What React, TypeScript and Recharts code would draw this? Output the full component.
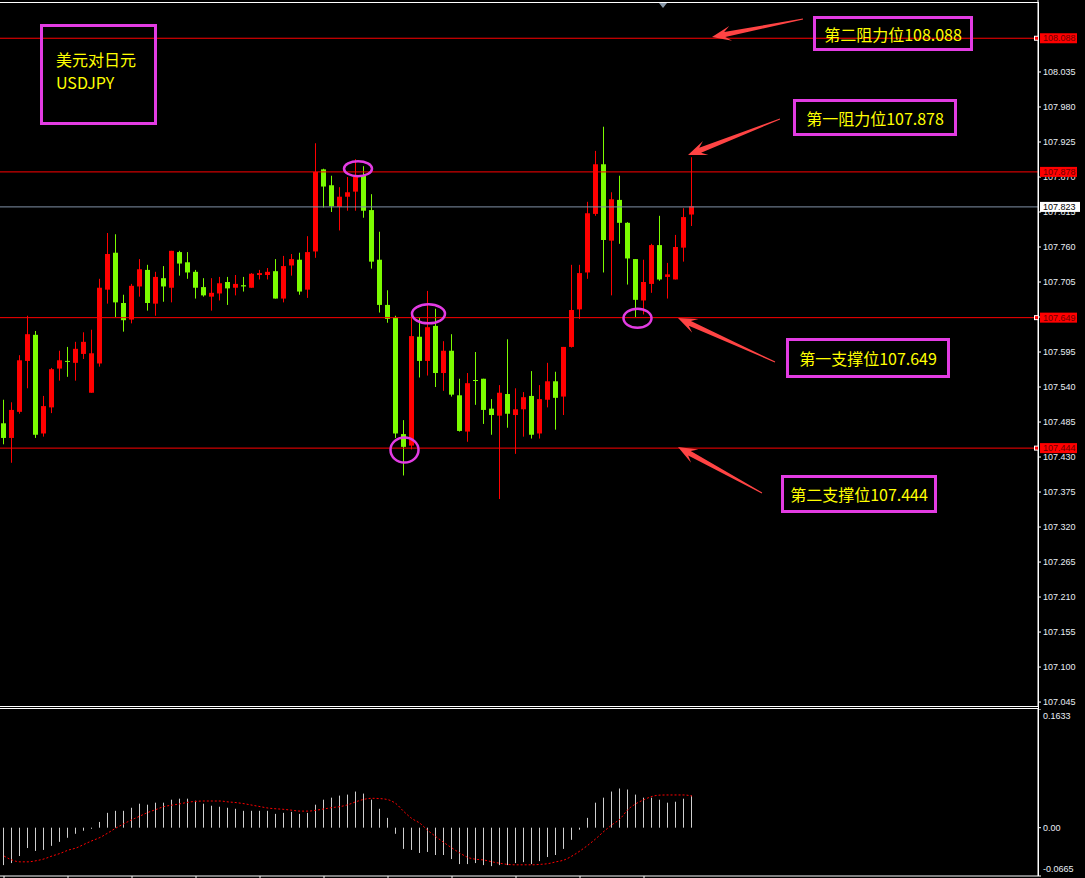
import React from 'react';
import { ComposedChart, Bar, Line, XAxis, YAxis, ReferenceLine, ReferenceDot } from 'recharts';

// ---------- data ----------
const candleIndex: number[] = Array.from({ length: 87 }, (_, i) => i);

const opens = [107.483,107.460,107.501,107.581,107.622,107.467,107.508,107.569,107.581,107.578,107.592,107.531,107.577,107.693,107.751,107.672,107.646,107.698,107.724,107.671,107.711,107.696,107.752,107.736,107.721,107.697,107.682,107.687,107.705,107.696,107.700,107.696,107.716,107.716,107.722,107.679,107.731,107.740,107.693,107.753,107.882,107.857,107.823,107.839,107.847,107.872,107.818,107.740,107.669,107.649,107.466,107.448,107.619,107.581,107.636,107.562,107.597,107.527,107.470,107.551,107.553,107.506,107.495,107.529,107.496,107.505,107.526,107.467,107.520,107.549,107.525,107.603,107.662,107.720,107.812,107.890,107.770,107.834,107.798,107.741,107.676,107.702,107.763,107.713,107.709,107.759,107.811];
const highs = [107.520,107.516,107.590,107.652,107.628,107.526,107.570,107.597,107.603,107.611,107.626,107.630,107.710,107.782,107.780,107.685,107.702,107.741,107.732,107.721,107.730,107.754,107.754,107.752,107.724,107.711,107.711,107.713,107.713,107.716,107.713,107.719,107.724,107.727,107.741,107.746,107.749,107.751,107.777,107.923,107.883,107.872,107.854,107.870,107.898,107.887,107.843,107.784,107.692,107.652,107.488,107.656,107.649,107.691,107.663,107.612,107.623,107.553,107.562,107.595,107.553,107.521,107.543,107.615,107.538,107.532,107.565,107.543,107.578,107.564,107.603,107.732,107.732,107.831,107.911,107.949,107.846,107.872,107.799,107.741,107.740,107.765,107.809,107.735,107.779,107.821,107.901];
const lows = [107.450,107.421,107.498,107.538,107.460,107.462,107.499,107.550,107.556,107.550,107.584,107.531,107.572,107.671,107.650,107.627,107.640,107.682,107.660,107.652,107.674,107.673,107.715,107.710,107.679,107.682,107.660,107.676,107.669,107.684,107.690,107.696,107.709,107.709,107.679,107.673,107.715,107.685,107.680,107.743,107.822,107.815,107.786,107.817,107.817,107.806,107.726,107.657,107.641,107.460,107.401,107.442,107.555,107.558,107.540,107.534,107.525,107.470,107.454,107.512,107.482,107.465,107.364,107.476,107.435,107.462,107.459,107.459,107.508,107.473,107.496,107.602,107.647,107.710,107.809,107.720,107.684,107.765,107.701,107.650,107.654,107.688,107.707,107.679,107.709,107.737,107.793];
const closes = [107.460,107.504,107.582,107.623,107.465,107.510,107.568,107.582,107.580,107.600,107.611,107.593,107.696,107.749,107.673,107.645,107.699,107.725,107.672,107.713,107.698,107.754,107.734,107.720,107.696,107.684,107.688,107.703,107.695,107.702,107.698,107.718,107.719,107.721,107.679,107.730,107.741,107.690,107.752,107.878,107.855,107.824,107.839,107.846,107.870,107.817,107.737,107.669,107.647,107.467,107.446,107.620,107.581,107.634,107.562,107.597,107.528,107.471,107.546,107.550,107.504,107.496,107.531,107.498,107.505,107.524,107.465,107.521,107.549,107.523,107.603,107.661,107.719,107.813,107.890,107.771,107.835,107.798,107.742,107.677,107.705,107.763,107.709,107.717,107.760,107.807,107.824];

const macdHist = [-0.0515,-0.0487,-0.039,-0.028,-0.032,-0.0306,-0.025,-0.0195,-0.0139,-0.0084,-0.0042,-0.0015,0.0079,0.0204,0.0232,0.0232,0.0274,0.033,0.0316,0.0344,0.0344,0.0385,0.0399,0.0399,0.0371,0.033,0.0302,0.0288,0.0274,0.026,0.0232,0.0232,0.0232,0.0232,0.019,0.0204,0.0218,0.019,0.0204,0.0316,0.0385,0.0413,0.0441,0.0455,0.0497,0.0469,0.0385,0.026,0.0135,-0.0084,-0.0292,-0.0306,-0.0348,-0.0334,-0.0376,-0.0376,-0.0432,-0.0501,-0.0501,-0.0487,-0.0515,-0.0529,-0.0515,-0.0515,-0.0487,-0.0474,-0.0501,-0.046,-0.0404,-0.0376,-0.0292,-0.0167,-0.0028,0.0135,0.0344,0.0413,0.0497,0.0539,0.0525,0.0455,0.0413,0.0413,0.0385,0.0344,0.0357,0.0399,0.0441];
const macdSignal = [-0.039,-0.0445,-0.047,-0.047,-0.0455,-0.043,-0.039,-0.0355,-0.031,-0.028,-0.023,-0.018,-0.0135,-0.0072,-0.0005,0.0055,0.011,0.016,0.021,0.025,0.029,0.031,0.0328,0.035,0.0362,0.0367,0.0367,0.0367,0.0355,0.0345,0.033,0.031,0.029,0.027,0.026,0.0252,0.024,0.0228,0.0228,0.024,0.0258,0.0276,0.029,0.0316,0.0357,0.039,0.0404,0.04,0.0385,0.033,0.022,0.0125,0.006,-0.004,-0.0125,-0.0205,-0.028,-0.035,-0.041,-0.0435,-0.0445,-0.047,-0.049,-0.0506,-0.0511,-0.0511,-0.0511,-0.0505,-0.0495,-0.047,-0.0445,-0.039,-0.032,-0.024,-0.015,-0.005,0.004,0.012,0.025,0.033,0.0385,0.043,0.0448,0.045,0.045,0.045,0.0435];

const priceTicks = [108.035,107.980,107.925,107.870,107.815,107.760,107.705,107.650,107.595,107.540,107.485,107.430,107.375,107.320,107.265,107.210,107.155,107.100,107.045];
const macdTicks = [0.1633, 0, -0.0665];

const resistanceLevels = [108.088, 107.878];
const supportLevels = [107.649, 107.444];
const currentPrice = 107.823;

const markIndex = [44, 53, 50, 79];
const markPrice = [107.883, 107.655, 107.441, 107.648];

const title = ['美元对日元', 'USDJPY'];
const levelNotes = ['第二阻力位108.088', '第一阻力位107.878', '第一支撑位107.649', '第二支撑位107.444'];

// ---------- styles ----------
const RED = '#ff0000';
const GREEN = '#7cfc00';
const MAGENTA = '#e33ce3';
const ARROW = '#ff4444';
const AXIS_TXT = '#e8eef5';
const FONT = '"Liberation Sans", Arial, sans-serif';
const CJK = '"Noto Sans CJK SC", "Noto Sans", sans-serif';
const PRICE_DOMAIN: [number, number] = [107.0388, 108.1481];

const rows = candleIndex.map((t, i) => ({
  t,
  open: opens[i],
  high: highs[i],
  low: lows[i],
  close: closes[i],
  range: [lows[i], highs[i]],
  hist: macdHist[i],
  signal: macdSignal[i],
}));

const PAD_RIGHT = 342;

const Candle = (props: any) => {
  const { x, y, width, height, payload } = props;
  if (!payload) return null;
  const { open, close, high, low } = payload;
  const up = close > open;
  const color = up ? RED : GREEN;
  const center = x + width / 2;
  const cx = Math.floor(center - 0.5) + 0.5;
  const ppu = height / (high - low);
  const bt = y + (high - Math.max(open, close)) * ppu;
  const bb = y + (high - Math.min(open, close)) * ppu;
  return (
    <g>
      <line x1={cx} x2={cx} y1={y} y2={y + height} stroke={color} strokeWidth={1} />
      <rect x={cx - 2.5} y={bt} width={5} height={Math.max(bb - bt, 1)} fill={color} />
    </g>
  );
};

const HistBar = (props: any) => {
  const { x, y, width, height } = props;
  const center = x + width / 2;
  const top = Math.min(y, y + height);
  const h = Math.abs(height);
  return <rect x={Math.floor(center - 0.5)} y={top} width={1} height={h} fill="#cfcfcf" />;
};

const levelLabel = (value: number, bg: string, fg: string, w: number, marker: boolean) => (props: any) => {
  const vb = props.viewBox || {};
  const right = (vb.x || 0) + (vb.width || 0);
  const yy = vb.y;
  return (
    <g>
      {marker && <rect x={right - 3.5} y={yy - 2} width={4} height={4} fill={RED} stroke="#ffffff" strokeWidth={1} />}
      <rect x={right + 2} y={yy - 5} width={w} height={10} fill={bg} />
      <text x={right + 5} y={yy} dy="0.355em" fontSize={9} fontFamily={FONT} fill={fg}>
        {value.toFixed(3)}
      </text>
    </g>
  );
};

const MacdTick = (props: any) => {
  const { x, y, payload } = props;
  const v = payload.value;
  let dy = 0;
  let txt = v.toFixed(4);
  if (v === 0) txt = '0.00';
  if (v === macdTicks[0]) dy = 7;
  if (v === macdTicks[2]) dy = -7;
  return (
    <text x={x} y={y + dy} dy="0.355em" fontSize={9} fontFamily={FONT} fill={AXIS_TXT} textAnchor="start">
      {txt}
    </text>
  );
};

function arrowPoints(tx: number, ty: number, hx: number, hy: number) {
  const dx = hx - tx;
  const dy = hy - ty;
  const L = Math.hypot(dx, dy);
  const ux = dx / L, uy = dy / L;
  const nx = -uy, ny = ux;
  const hl = 19, hw = 7.5, sw = 2.6, notch = 6, tw = 0.4;
  const P = (a: number, b: number) => `${a.toFixed(1)},${b.toFixed(1)}`;
  const bx = hx - ux * hl, by = hy - uy * hl;
  const kx = hx - ux * (hl - notch), ky = hy - uy * (hl - notch);
  return [
    P(hx, hy),
    P(bx + nx * hw, by + ny * hw),
    P(kx + nx * sw, ky + ny * sw),
    P(tx + nx * tw, ty + ny * tw),
    P(tx - nx * tw, ty - ny * tw),
    P(kx - nx * sw, ky - ny * sw),
    P(bx - nx * hw, by - ny * hw),
  ].join(' ');
}

const boxStyle = (left: number, top: number, width: number, height: number): React.CSSProperties => ({
  position: 'absolute',
  left,
  top,
  width,
  height,
  boxSizing: 'border-box',
  border: `3px solid ${MAGENTA}`,
  color: '#ffff00',
  fontFamily: CJK,
  fontSize: 16,
  display: 'flex',
  alignItems: 'center',
  justifyContent: 'center',
  whiteSpace: 'nowrap',
});

export default function App() {
  return (
    <div style={{ position: 'absolute', left: 0, top: 0, width: 1085, height: 878, background: '#000', overflow: 'hidden' }}>
      {/* main price pane */}
      <div style={{ position: 'absolute', left: 0, top: 0 }}>
        <ComposedChart width={1085} height={706} data={rows} margin={{ top: 0, right: 0, left: 0, bottom: 0 }}>
          <XAxis dataKey="t" type="category" hide padding={{ left: 0, right: PAD_RIGHT }} />
          <YAxis
            orientation="right"
            type="number"
            width={47}
            domain={PRICE_DOMAIN}
            allowDataOverflow
            ticks={priceTicks}
            interval={0}
            axisLine={{ stroke: '#ffffff' }}
            tickLine={{ stroke: '#ffffff' }}
            tickSize={3}
            tick={{ fill: AXIS_TXT, fontSize: 9, fontFamily: FONT }}
            tickFormatter={(v: number) => v.toFixed(3)}
          />
          <ReferenceLine y={resistanceLevels[0]} stroke={RED} strokeWidth={1} />
          <ReferenceLine y={resistanceLevels[1]} stroke={RED} strokeWidth={1} />
          <ReferenceLine y={currentPrice} stroke="#8191a6" strokeWidth={1} />
          <ReferenceLine y={supportLevels[0]} stroke={RED} strokeWidth={1} />
          <ReferenceLine y={supportLevels[1]} stroke={RED} strokeWidth={1} />
          <Bar dataKey="range" shape={(p: any) => <Candle {...p} />} isAnimationActive={false} />
          {markIndex.map((mi, k) => (
            <ReferenceDot
              key={k}
              x={mi}
              y={markPrice[k]}
              r={1}
              shape={(p: any) => (
                <ellipse
                  cx={p.cx + (k === 0 ? 2 : k === 3 ? 1.5 : 0.5)}
                  cy={p.cy}
                  rx={k === 1 ? 16.5 : 14}
                  ry={k === 2 ? 12.5 : k === 0 ? 7.5 : 9.5}
                  fill="none"
                  stroke={MAGENTA}
                  strokeWidth={2.5}
                />
              )}
            />
          ))}
        </ComposedChart>
      </div>

      {/* level price tags, drawn above the axis ticks */}
      <div style={{ position: 'absolute', left: 0, top: 0, pointerEvents: 'none' }}>
        <ComposedChart width={1085} height={706} data={rows} margin={{ top: 0, right: 0, left: 0, bottom: 0 }}>
          <XAxis dataKey="t" type="category" hide padding={{ left: 0, right: PAD_RIGHT }} />
          <YAxis
            orientation="right"
            type="number"
            width={47}
            domain={PRICE_DOMAIN}
            allowDataOverflow
            ticks={priceTicks}
            axisLine={false}
            tickLine={false}
            tick={false}
          />
          <ReferenceLine y={resistanceLevels[0]} stroke="none" label={levelLabel(resistanceLevels[0], RED, '#6a0000', 37, true)} />
          <ReferenceLine y={resistanceLevels[1]} stroke="none" label={levelLabel(resistanceLevels[1], RED, '#6a0000', 37, false)} />
          <ReferenceLine y={currentPrice} stroke="none" label={levelLabel(currentPrice, '#ffffff', '#000000', 40, false)} />
          <ReferenceLine y={supportLevels[0]} stroke="none" label={levelLabel(supportLevels[0], RED, '#6a0000', 37, true)} />
          <ReferenceLine y={supportLevels[1]} stroke="none" label={levelLabel(supportLevels[1], RED, '#6a0000', 37, true)} />
        </ComposedChart>
      </div>

      {/* MACD pane */}
      <div style={{ position: 'absolute', left: 0, top: 709 }}>
        <ComposedChart width={1085} height={169} data={rows} margin={{ top: 0, right: 0, left: 0, bottom: 0 }}>
          <XAxis
            dataKey="t"
            type="category"
            padding={{ left: 0, right: PAD_RIGHT }}
            height={2}
            interval={7}
            axisLine={{ stroke: '#ffffff' }}
            tickLine={{ stroke: '#ffffff' }}
            tickSize={2}
            tick={() => <g />}
          />
          <YAxis
            orientation="right"
            type="number"
            width={47}
            domain={[-0.0665, 0.1633]}
            allowDataOverflow
            ticks={macdTicks}
            interval={0}
            axisLine={{ stroke: '#ffffff' }}
            tickLine={{ stroke: '#ffffff' }}
            tickSize={3}
            tick={(p: any) => <MacdTick {...p} />}
          />
          <Bar dataKey="hist" shape={(p: any) => <HistBar {...p} />} isAnimationActive={false} />
          <Line
            dataKey="signal"
            type="monotone"
            stroke="#ff0000"
            strokeWidth={1}
            strokeDasharray="2 2"
            dot={false}
            activeDot={false}
            isAnimationActive={false}
          />
        </ComposedChart>
      </div>

      {/* frame and arrows */}
      <svg width={1085} height={878} style={{ position: 'absolute', left: 0, top: 0, pointerEvents: 'none' }}>
        <line x1={0} x2={1038.5} y1={2.5} y2={2.5} stroke="#ffffff" strokeWidth={1} />
        <line x1={1038.5} x2={1038.5} y1={2} y2={876} stroke="#ffffff" strokeWidth={1} />
        <line x1={0} x2={1038.5} y1={706.5} y2={706.5} stroke="#ffffff" strokeWidth={1} />
        <line x1={0} x2={1038.5} y1={708.5} y2={708.5} stroke="#ffffff" strokeWidth={1} />
        <polygon points="659,3 667,3 663,8" fill="#8898a8" />
        <polygon points={arrowPoints(803, 19, 712, 37)} fill={ARROW} />
        <polygon points={arrowPoints(780, 119, 688, 155)} fill={ARROW} />
        <polygon points={arrowPoints(775, 362, 678, 318)} fill={ARROW} />
        <polygon points={arrowPoints(762, 493, 678, 447)} fill={ARROW} />
      </svg>

      {/* annotation boxes */}
      <div style={{ ...boxStyle(40, 24, 117, 101), display: 'block', padding: '21px 0 0 13px', lineHeight: '23px' }}>
        <div>{title[0]}</div>
        <div>{title[1]}</div>
      </div>
      <div style={boxStyle(813, 16, 160, 35)}>{levelNotes[0]}</div>
      <div style={boxStyle(793, 99, 164, 37)}>{levelNotes[1]}</div>
      <div style={boxStyle(786, 338, 164, 40)}>{levelNotes[2]}</div>
      <div style={boxStyle(781, 475, 156, 38)}>{levelNotes[3]}</div>
    </div>
  );
}
